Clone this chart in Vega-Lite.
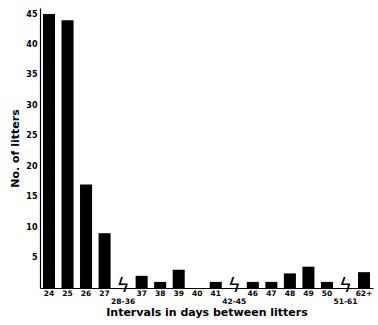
{
  "$schema": "https://vega.github.io/schema/vega-lite/v6.json",
  "autosize": "none",
  "width": 333,
  "height": 280,
  "padding": {"left": 40, "top": 8, "right": 5, "bottom": 37},
  "background": "white",
  "config": {"view": {"stroke": null}, "font": "DejaVu Sans"},
  "data": {"values": [
    {"interval": "24", "litters": 45, "brk": false},
    {"interval": "25", "litters": 44, "brk": false},
    {"interval": "26", "litters": 17, "brk": false},
    {"interval": "27", "litters": 9, "brk": false},
    {"interval": "28-36", "litters": 0, "brk": true},
    {"interval": "37", "litters": 2, "brk": false},
    {"interval": "38", "litters": 1, "brk": false},
    {"interval": "39", "litters": 3, "brk": false},
    {"interval": "40", "litters": 0, "brk": false},
    {"interval": "41", "litters": 1, "brk": false},
    {"interval": "42-45", "litters": 0, "brk": true},
    {"interval": "46", "litters": 1, "brk": false},
    {"interval": "47", "litters": 1, "brk": false},
    {"interval": "48", "litters": 2.4, "brk": false},
    {"interval": "49", "litters": 3.5, "brk": false},
    {"interval": "50", "litters": 1, "brk": false},
    {"interval": "51-61", "litters": 0, "brk": true},
    {"interval": "62+", "litters": 2.6, "brk": false}
  ]},
  "encoding": {
    "x": {
      "field": "interval", "type": "nominal", "sort": null,
      "scale": {"paddingInner": 0.35, "paddingOuter": 0.16},
      "axis": {
        "title": "Intervals  in  days between  litters",
        "titleFont": "DejaVu Sans", "titleFontSize": 11, "titleFontWeight": "bold",
        "titleColor": "black", "titlePadding": 2,
        "labelAngle": 0, "labelFontSize": 7.5, "labelFontWeight": "bold", "labelColor": "black",
        "labelOverlap": false,
        "labelPadding": {"condition": {"test": "indexof(datum.value, '-') >= 0", "value": 9}, "value": 1},
        "ticks": false, "domainColor": "black", "domainWidth": 1.2
      }
    },
    "y": {
      "field": "litters", "type": "quantitative",
      "scale": {"domain": [0, 46], "nice": false},
      "axis": {
        "title": "No. of litters", "titleFontSize": 11, "titleFontWeight": "bold",
        "titleColor": "black", "titlePadding": 5,
        "values": [5, 10, 15, 20, 25, 30, 35, 40, 45],
        "labelOverlap": false,
        "labelFontSize": 8, "labelFontWeight": "bold", "labelColor": "black",
        "ticks": false, "labelPadding": 3, "grid": false,
        "domainColor": "black", "domainWidth": 1.2
      }
    }
  },
  "layer": [
    {
      "mark": {"type": "bar", "color": "black"}
    },
    {
      "transform": [{"filter": "datum.brk"}],
      "mark": {"type": "text", "text": "ϟ", "fontSize": 20, "color": "black", "baseline": "middle", "dy": -2}
    }
  ]
}
